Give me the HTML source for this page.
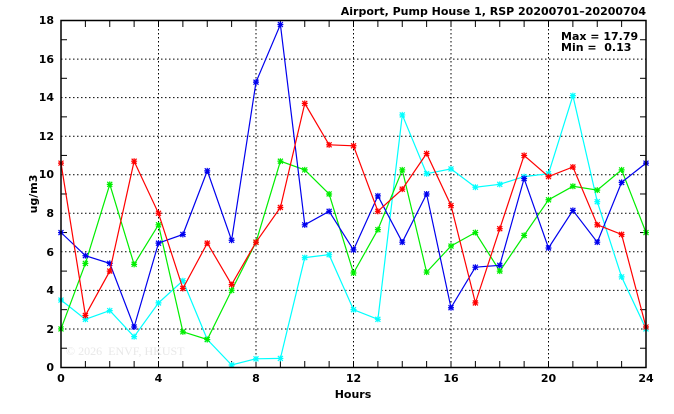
<!DOCTYPE html>
<html><head><meta charset="utf-8"><style>
body{margin:0;background:#fff}
svg text{font-family:"DejaVu Sans","Liberation Sans",sans-serif;font-size:11px;font-weight:bold;fill:#000;white-space:pre}
</style></head><body>
<svg id="s" width="674" height="409" xmlns="http://www.w3.org/2000/svg">
<rect width="674" height="409" fill="#fff"/>
<g stroke="#000" stroke-width="1" stroke-dasharray="1.5,2.5">
<line x1="158.5" y1="21" x2="158.5" y2="367"/><line x1="256" y1="21" x2="256" y2="367"/><line x1="353.5" y1="21" x2="353.5" y2="367"/><line x1="451" y1="21" x2="451" y2="367"/><line x1="548.5" y1="21" x2="548.5" y2="367"/>
<line x1="61" y1="329" x2="646" y2="329"/><line x1="61" y1="290.4" x2="646" y2="290.4"/><line x1="61" y1="251.8" x2="646" y2="251.8"/><line x1="61" y1="213.3" x2="646" y2="213.3"/><line x1="61" y1="174.7" x2="646" y2="174.7"/><line x1="61" y1="136.2" x2="646" y2="136.2"/><line x1="61" y1="97.6" x2="646" y2="97.6"/><line x1="61" y1="59.1" x2="646" y2="59.1"/>
</g>
<g id="ticks" stroke="#000" stroke-width="1"></g>
<text x="66" y="355" style="fill:#e8e8e8;font-weight:normal;font-family:'Liberation Serif',serif;font-size:12px">© 2026  ENVF, HKUST</text>
<g id="data"></g>
<rect x="61" y="20.5" width="585" height="347" fill="none" stroke="#000" stroke-width="1.5"/>
<g text-anchor="end">
<text x="54" y="371">0</text><text x="54" y="333">2</text><text x="54" y="294">4</text><text x="54" y="256">6</text><text x="54" y="217">8</text><text x="54" y="178">10</text><text x="54" y="140">12</text><text x="54" y="101">14</text><text x="54" y="63">16</text><text x="54" y="24">18</text>
</g>
<g text-anchor="middle">
<text x="61" y="382">0</text><text x="158.5" y="382">4</text><text x="256" y="382">8</text><text x="353.5" y="382">12</text><text x="451" y="382">16</text><text x="548.5" y="382">20</text><text x="646" y="382">24</text>
<text x="353" y="398">Hours</text>
</g>
<text transform="translate(37,194) rotate(-90)" text-anchor="middle">ug/m3</text>
<text x="646" y="15" text-anchor="end">Airport, Pump House 1, RSP 20200701–20200704</text>
<text x="561" y="40">Max = 17.79</text>
<text x="561" y="51">Min =  0.13</text>
</svg>
<script>
var X=function(h){return 61+h*24.375},Y=function(v){return 367.5-v*19.28};
var t='';for(var v=1;v<18;v+=2){t+='<line x1="61" x2="67" y1="'+Y(v)+'" y2="'+Y(v)+'"/><line x1="640" x2="646" y1="'+Y(v)+'" y2="'+Y(v)+'"/>';}
for(var h=1;h<24;h++){t+='<line x1="'+X(h)+'" x2="'+X(h)+'" y1="361" y2="367"/><line x1="'+X(h)+'" x2="'+X(h)+'" y1="21" y2="27"/>';}
document.getElementById('ticks').innerHTML=t;
var S=[
["#00ffff",[3.5,2.5,2.95,1.6,3.35,4.5,1.45,0.13,0.45,0.47,5.7,5.85,3.0,2.5,13.1,10.05,10.3,9.35,9.5,9.9,10.05,14.1,8.6,4.7,2.0]],
["#00ee00",[2.0,5.4,9.5,5.35,7.4,1.85,1.45,4.0,6.5,10.7,10.25,9.0,4.9,7.15,10.25,4.95,6.3,7.0,5.0,6.85,8.7,9.4,9.2,10.25,7.0]],
["#0000ee",[7.0,5.8,5.4,2.1,6.45,6.9,10.2,6.6,14.8,17.79,7.4,8.1,6.1,8.9,6.5,9.0,3.1,5.2,5.3,9.8,6.2,8.15,6.5,9.6,10.6]],
["#ff0000",[10.6,2.7,5.0,10.7,8.0,4.1,6.45,4.3,6.5,8.3,13.7,11.55,11.5,8.1,9.25,11.1,8.4,3.35,7.2,11.0,9.9,10.4,7.4,6.9,2.1]]];
var o='';S.forEach(function(s){var p=s[1].map(function(v,i){return X(i).toFixed(1)+','+Y(v).toFixed(1)}).join(' ');
o+='<polyline points="'+p+'" fill="none" stroke="'+s[0]+'" stroke-width="1.2"/>';
s[1].forEach(function(v,i){var x=X(i),y=Y(v);o+='<path d="M'+(x-3)+' '+y+'h6M'+x+' '+(y-3)+'v6M'+(x-2.5)+' '+(y-2.5)+'l5 5M'+(x-2.5)+' '+(y+2.5)+'l5 -5" stroke="'+s[0]+'" stroke-width="1.2"/>';});});
document.getElementById('data').innerHTML=o;
</script>
</body></html>
